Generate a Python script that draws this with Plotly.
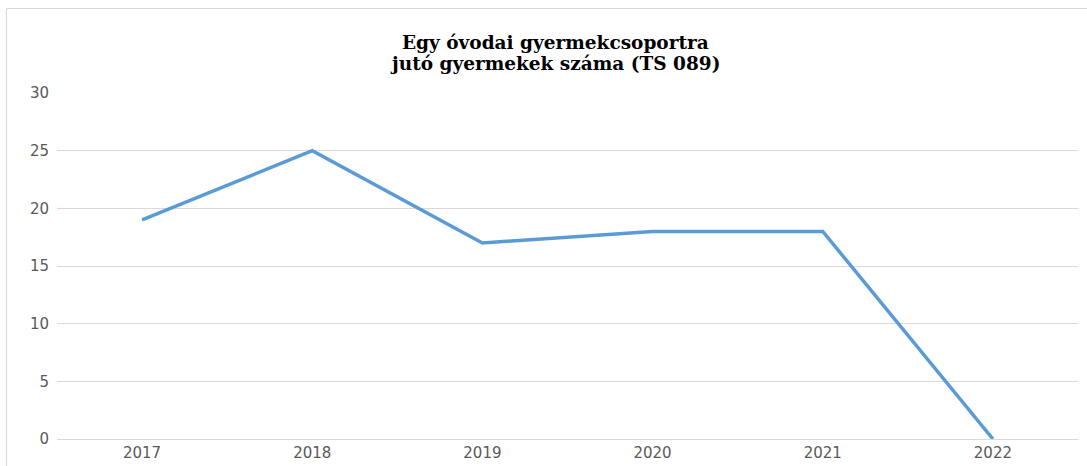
import plotly.graph_objects as go

years = ["2017", "2018", "2019", "2020", "2021", "2022"]
values = [19, 25, 17, 18, 18, 0]
y_ticks = [0, 5, 10, 15, 20, 25, 30]
title_lines = ["Egy óvodai gyermekcsoportra", "jutó gyermekek száma (TS 089)"]

fig = go.Figure()
fig.add_trace(go.Scatter(
    x=years, y=values, mode="lines",
    line=dict(color="#5B9BD5", width=3.5),
    hoverinfo="x+y", showlegend=False,
))

W, H = 1087, 466
L, R, T, B = 57, 9, 93, 27
pw, ph = W - L - R, H - T - B

def px_x(x):
    return (x - L) / pw

def px_y(y):
    return (H - B - y) / ph

title_y_px = [42, 63]
annotations = [
    dict(text="<b>" + line + "</b>", xref="paper", yref="paper",
         x=px_x(555), y=px_y(ypx), xanchor="center", yanchor="middle",
         showarrow=False, font=dict(family="DejaVu Serif", size=18.5, color="#000000"))
    for line, ypx in zip(title_lines, title_y_px)
]

fig.update_layout(
    width=W, height=H,
    margin=dict(l=L, r=R, t=T, b=B, autoexpand=False),
    paper_bgcolor="white", plot_bgcolor="white",
    annotations=annotations,
    xaxis=dict(
        type="category", range=[-0.5, 5.5], automargin=False,
        showgrid=False, showline=False, zeroline=False, ticks="",
        ticklabelstandoff=3,
        tickfont=dict(family="DejaVu Sans", size=15, color="#595959"),
    ),
    yaxis=dict(
        range=[0, 30], tickvals=y_ticks, automargin=False,
        showgrid=True, gridcolor="#D9D9D9", gridwidth=1,
        zeroline=True, zerolinecolor="#D9D9D9", zerolinewidth=1, showline=False, ticks="",
        ticklabelstandoff=7,
        tickfont=dict(family="DejaVu Sans", size=15, color="#595959"),
    ),
    shapes=[
        dict(type="line", xref="paper", yref="paper", x0=px_x(6.5), x1=px_x(6.5),
             y0=px_y(8.5), y1=px_y(470), line=dict(color="#D9D9D9", width=1.2)),
        dict(type="line", xref="paper", yref="paper", x0=px_x(6.5), x1=px_x(1090),
             y0=px_y(8.5), y1=px_y(8.5), line=dict(color="#D9D9D9", width=1.2)),
    ],
)

fig.write_html("out.html", config={"displayModeBar": False},
               post_script="document.body.style.margin='0';")
